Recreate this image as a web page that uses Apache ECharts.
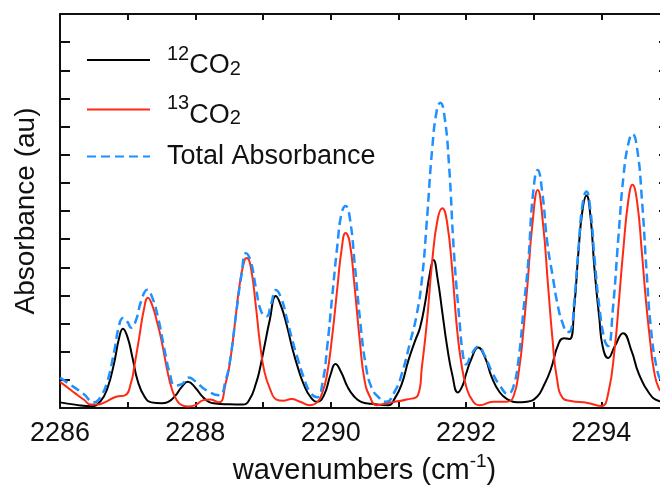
<!DOCTYPE html>
<html>
<head>
<meta charset="utf-8">
<script src="https://cdn.jsdelivr.net/npm/echarts@6/dist/echarts.min.js"></script>
<style>html,body{margin:0;padding:0;background:#fff;}#chart{width:660px;height:486px;}</style>
</head>
<body>
<div id="chart"></div>
<script>
// ---- Data (wavenumber in cm^-1, absorbance in a.u.) ----
const seriesNames = ['12CO2', '13CO2', 'Total Absorbance'];
const xTickLabels = [2286, 2288, 2290, 2292, 2294];

const wn12 = [2286.0,2286.22,2286.46,2286.6,2286.7,2286.8,2286.87,2286.93,2287.0,2287.07,2287.15,2287.25,2287.35,2287.5,2287.6,2287.7,2287.8,2287.89,2288.0,2288.1,2288.2,2288.3,2288.5,2288.7,2288.8,2288.9,2288.95,2289.03,2289.1,2289.19,2289.27,2289.35,2289.44,2289.52,2289.6,2289.7,2289.8,2289.9,2290.0,2290.07,2290.15,2290.25,2290.35,2290.45,2290.6,2290.85,2290.95,2291.05,2291.15,2291.25,2291.32,2291.4,2291.46,2291.52,2291.58,2291.65,2291.72,2291.8,2291.88,2291.95,2292.0,2292.08,2292.18,2292.28,2292.38,2292.5,2292.62,2292.75,2292.9,2293.05,2293.15,2293.25,2293.37,2293.45,2293.53,2293.6,2293.66,2293.72,2293.78,2293.84,2293.9,2293.97,2294.02,2294.1,2294.2,2294.32,2294.45,2294.55,2294.7,2294.85,2295.0];
const abs12 = [0.2,0.12,0.06,0.25,0.7,1.6,2.45,2.82,2.5,1.8,0.95,0.4,0.2,0.17,0.22,0.42,0.75,0.93,0.72,0.42,0.22,0.16,0.13,0.12,0.3,0.9,1.35,2.3,3.13,3.98,3.6,2.95,2.06,1.4,0.85,0.4,0.22,0.45,1.2,1.56,1.3,0.75,0.4,0.22,0.15,0.1,0.35,0.85,1.7,2.4,2.85,3.8,4.7,5.26,4.6,3.4,2.2,1.15,0.55,0.8,1.2,1.75,2.15,1.8,1.1,0.55,0.3,0.2,0.22,0.4,0.8,1.35,2.3,2.48,2.45,3.6,5.5,7.0,7.55,6.8,4.9,3.2,2.18,1.78,2.2,2.66,2.0,1.24,0.55,0.25,0.2];

const wn13 = [2286.0,2286.1,2286.22,2286.35,2286.46,2286.56,2286.66,2286.83,2286.96,2287.05,2287.1,2287.17,2287.24,2287.3,2287.37,2287.44,2287.5,2287.58,2287.65,2287.72,2287.8,2287.9,2288.0,2288.12,2288.22,2288.35,2288.45,2288.51,2288.58,2288.65,2288.72,2288.76,2288.82,2288.9,2288.95,2289.02,2289.1,2289.2,2289.3,2289.42,2289.55,2289.69,2289.8,2289.87,2289.94,2290.02,2290.1,2290.16,2290.22,2290.28,2290.35,2290.43,2290.5,2290.58,2290.68,2290.8,2290.95,2291.12,2291.29,2291.35,2291.42,2291.5,2291.58,2291.65,2291.72,2291.8,2291.86,2291.93,2292.01,2292.1,2292.2,2292.4,2292.6,2292.7,2292.79,2292.85,2292.91,2292.98,2293.06,2293.14,2293.21,2293.28,2293.34,2293.43,2293.55,2293.8,2294.0,2294.1,2294.2,2294.26,2294.32,2294.4,2294.46,2294.53,2294.6,2294.66,2294.72,2294.78,2294.85,2294.92,2295.0];
const abs13 = [0.93,0.75,0.53,0.3,0.12,0.12,0.2,0.4,0.45,0.9,1.5,2.5,3.5,3.92,3.6,3.0,2.4,1.4,0.7,0.3,0.1,0.05,0.1,0.28,0.3,0.2,0.9,1.6,2.9,4.3,5.2,5.33,5.0,3.5,2.4,1.3,0.7,0.3,0.26,0.32,0.22,0.1,0.2,0.5,1.1,2.5,4.3,5.6,6.22,5.9,4.4,2.4,1.0,0.4,0.1,0.15,0.22,0.3,0.46,1.5,3.0,5.2,6.7,7.1,6.6,4.8,3.0,1.6,0.7,0.25,0.1,0.22,0.22,0.4,1.47,2.8,4.43,6.5,7.75,6.5,4.43,2.4,1.11,0.35,0.25,0.18,0.07,0.5,2.18,3.8,5.5,7.4,7.93,7.3,5.5,3.8,2.4,1.3,0.7,0.55,0.5];

const wnTot = [2286.0,2286.2,2286.35,2286.5,2286.6,2286.7,2286.8,2286.87,2286.93,2287.0,2287.05,2287.12,2287.2,2287.29,2287.36,2287.45,2287.55,2287.62,2287.7,2287.8,2287.9,2288.0,2288.15,2288.35,2288.45,2288.52,2288.6,2288.68,2288.75,2288.82,2288.9,2288.97,2289.05,2289.12,2289.19,2289.27,2289.35,2289.44,2289.52,2289.6,2289.7,2289.8,2289.88,2289.95,2290.02,2290.1,2290.16,2290.22,2290.28,2290.36,2290.44,2290.52,2290.6,2290.7,2290.82,2290.95,2291.05,2291.17,2291.27,2291.35,2291.42,2291.5,2291.57,2291.62,2291.68,2291.75,2291.82,2291.9,2291.96,2292.0,2292.08,2292.18,2292.28,2292.38,2292.5,2292.62,2292.7,2292.78,2292.85,2292.92,2292.99,2293.06,2293.13,2293.2,2293.28,2293.36,2293.43,2293.5,2293.55,2293.6,2293.66,2293.72,2293.78,2293.84,2293.9,2293.97,2294.05,2294.1,2294.17,2294.25,2294.33,2294.4,2294.46,2294.53,2294.6,2294.67,2294.73,2294.82,2294.9,2295.0];
const absTot = [1.08,0.75,0.5,0.2,0.4,0.95,2.0,2.9,3.2,3.05,2.85,3.1,3.8,4.2,3.95,3.2,2.0,1.25,0.8,0.85,1.08,0.95,0.65,0.45,1.0,1.8,3.3,4.7,5.5,5.2,4.2,3.45,3.25,3.7,4.19,3.9,3.2,2.35,1.7,1.1,0.55,0.38,0.9,2.2,3.9,5.8,6.9,7.18,6.8,5.0,3.0,1.5,0.75,0.4,0.22,0.6,1.2,2.3,3.3,4.6,6.6,9.2,10.6,10.85,10.4,8.6,5.6,3.2,1.8,1.55,1.9,2.18,1.85,1.3,0.8,0.5,0.75,1.8,3.5,5.2,7.6,8.46,7.6,5.9,4.7,3.6,3.0,2.7,2.75,3.8,5.6,7.2,7.69,7.0,5.3,3.6,2.4,2.2,3.5,6.0,8.3,9.4,9.74,9.2,7.4,4.8,2.9,1.4,0.9,0.7];

// ---- Chart ----
function pairs(xs, ys) { return xs.map((x, i) => [x, ys[i]]); }

const FONT = 'Liberation Sans, Arial, Helvetica, sans-serif';
const chart = echarts.init(document.getElementById('chart'), null, {renderer: 'canvas'});

const legendRich = {
  g: {width: 12, fontSize: 27},
  m: {fontSize: 27, padding: [12, 0, 0, 0], color: '#111', fontFamily: FONT},
  sup: {fontSize: 20, padding: [0, 0, 12, 0], color: '#111', fontFamily: FONT},
  sub: {fontSize: 20, padding: [18, 0, 0, 0], color: '#111', fontFamily: FONT},
  t: {fontSize: 27, color: '#111', fontFamily: FONT}
};

const option = {
  backgroundColor: '#ffffff',
  animation: false,
  textStyle: {fontFamily: FONT},
  grid: {left: 60, right: -9, top: 14, bottom: 78, show: false, containLabel: false, outerBoundsMode: 'none'},
  legend: {
    orient: 'vertical',
    left: 86,
    top: 44,
    padding: 0,
    itemWidth: 63,
    itemHeight: 14,
    itemGap: 14,
    data: seriesNames,
    itemStyle: {opacity: 0},
    textStyle: {fontFamily: FONT, rich: legendRich},
    formatter: function (name) {
      if (name === '12CO2') return '{g| }{sup|12}{m|CO}{sub|2}';
      if (name === '13CO2') return '{g| }{sup|13}{m|CO}{sub|2}';
      return '{g| }{t|' + name + '}';
    }
  },
  xAxis: [
    {
      type: 'value', min: 2286, max: 2295, interval: 1, position: 'bottom',
      name: '{a|wavenumbers (cm}{s|-1}{a|)}',
      nameLocation: 'middle', nameGap: 37,
      nameTextStyle: {
        fontFamily: FONT,
        rich: {
          a: {fontSize: 29, padding: [8, 0, 0, 0], color: '#111', fontFamily: FONT},
          s: {fontSize: 19, padding: [0, 0, 12, 0], color: '#111', fontFamily: FONT}
        }
      },
      axisLine: {show: true, onZero: false, lineStyle: {color: '#111', width: 2}},
      axisTick: {show: true, inside: true, length: 6, lineStyle: {color: '#111', width: 2}},
      axisLabel: {
        show: true, margin: 12, fontSize: 27, color: '#111', fontFamily: FONT,
        formatter: function (v) { return xTickLabels.indexOf(v) >= 0 ? String(v) : ''; }
      },
      splitLine: {show: false}
    },
    {
      type: 'value', min: 2286, max: 2295, interval: 1, position: 'top',
      axisLine: {show: true, onZero: false, lineStyle: {color: '#111', width: 2}},
      axisTick: {show: true, inside: true, length: 6, lineStyle: {color: '#111', width: 2}},
      axisLabel: {show: false},
      splitLine: {show: false}
    }
  ],
  yAxis: [
    {
      type: 'value', min: 0, max: 14, interval: 1, position: 'left',
      name: 'Absorbance (au)', nameLocation: 'middle', nameGap: 20,
      nameTextStyle: {fontSize: 28, color: '#111', fontFamily: FONT},
      axisLine: {show: true, onZero: false, lineStyle: {color: '#111', width: 2}},
      axisTick: {show: true, inside: true, length: 10, lineStyle: {color: '#111', width: 2}},
      axisLabel: {show: false},
      splitLine: {show: false}
    },
    {
      type: 'value', min: 0, max: 14, interval: 1, position: 'right',
      axisLine: {show: true, onZero: false, lineStyle: {color: '#111', width: 2}},
      axisTick: {show: true, inside: true, length: 10, lineStyle: {color: '#111', width: 2}},
      axisLabel: {show: false},
      splitLine: {show: false}
    }
  ],
  series: [
    {
      name: '12CO2', type: 'line', data: pairs(wn12, abs12),
      smooth: 0.5, symbol: 'none', showSymbol: false,
      lineStyle: {color: '#000000', width: 2}, itemStyle: {color: '#000000'}, z: 2
    },
    {
      name: '13CO2', type: 'line', data: pairs(wn13, abs13),
      smooth: 0.5, symbol: 'none', showSymbol: false,
      lineStyle: {color: '#ff2a14', width: 2}, itemStyle: {color: '#ff2a14'}, z: 3
    },
    {
      name: 'Total Absorbance', type: 'line', data: pairs(wnTot, absTot),
      smooth: 0.5, symbol: 'none', showSymbol: false,
      lineStyle: {color: '#1e90ff', width: 2.5, type: [9, 5]}, itemStyle: {color: '#1e90ff'}, z: 4
    }
  ]
};
chart.setOption(option);
</script>
</body>
</html>
